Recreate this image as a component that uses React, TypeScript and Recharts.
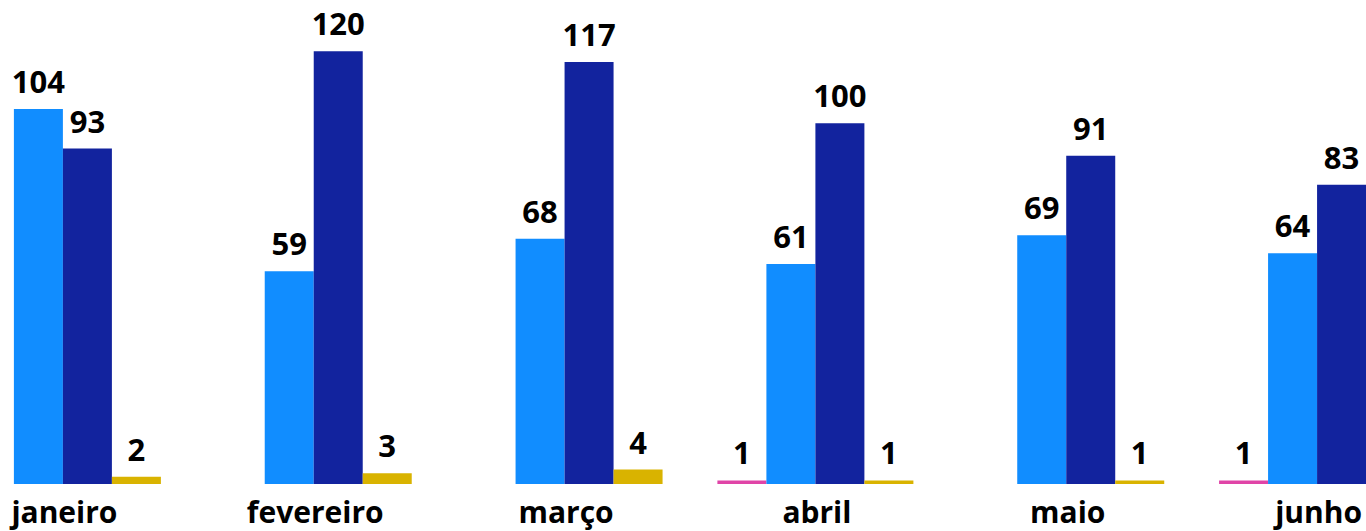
import { BarChart, Bar, XAxis, YAxis, LabelList } from "recharts";

const months = ["janeiro", "fevereiro", "março", "abril", "maio", "junho"];
const serieRosa = [null, null, null, 1, null, 1];
const serieAzulClaro = [104, 59, 68, 61, 69, 64];
const serieAzulEscuro = [93, 120, 117, 100, 91, 83];
const serieDourado = [2, 3, 4, 1, 1, null];

const data = months.map((m, i) => ({
  mes: m,
  rosa: serieRosa[i],
  azulClaro: serieAzulClaro[i],
  azulEscuro: serieAzulEscuro[i],
  dourado: serieDourado[i],
}));

const font = "'Segoe UI', 'Open Sans', sans-serif";
const labelStyle = { fill: "#000", fontSize: 31, fontWeight: 700, fontFamily: font };
const tickStyle = { fill: "#000", fontSize: 30, fontWeight: 700, fontFamily: font };

const series = [
  { key: "rosa", color: "#E044A7" },
  { key: "azulClaro", color: "#118DFF" },
  { key: "azulEscuro", color: "#12239E" },
  { key: "dourado", color: "#D9B300" },
];

export default function App() {
  return (
    <div style={{ position: "absolute", top: 0, left: 0, width: 1366, height: 531, overflow: "hidden", background: "#fff" }}>
      <div style={{ position: "absolute", top: 0, left: -63 }}>
        <BarChart
          width={1505}
          height={531}
          data={data}
          margin={{ top: 0, right: 0, bottom: 0, left: 0 }}
          barCategoryGap={27.9}
          barGap={0}
        >
          <XAxis
            dataKey="mes"
            axisLine={false}
            tickLine={false}
            tickSize={0}
            tickMargin={18}
            height={47}
            interval={0}
            tick={{ ...tickStyle, dx: 2 }}
          />
          <YAxis hide domain={[0, 134.2]} />
          {series.map((s) => (
            <Bar key={s.key} dataKey={s.key} fill={s.color} isAnimationActive={false}>
              <LabelList dataKey={s.key} position="top" offset={16} style={labelStyle} />
            </Bar>
          ))}
        </BarChart>
      </div>
    </div>
  );
}
